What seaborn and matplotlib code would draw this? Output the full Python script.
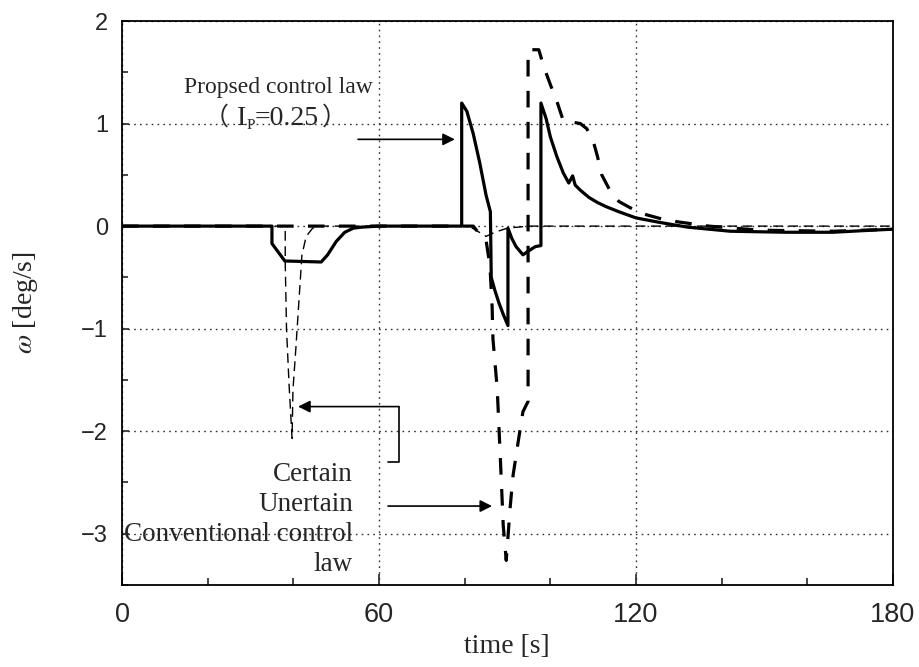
import matplotlib
matplotlib.use("Agg")
import matplotlib.pyplot as plt
from matplotlib.ticker import MultipleLocator
import numpy as np
import pandas as pd
import seaborn as sns


# ── data ──────────────────────────────────────────────────────────────────────

# proposed control law (solid)
prop_t = [0, 35, 35, 38, 46.5, 48, 50, 52, 54, 56, 60,
          79.3, 79.3, 80.5, 82, 83.5, 85, 86.0, 86.2, 87, 88, 89, 90.1,
          90.1, 91, 92, 93.6, 95, 96.5, 97.8, 97.8, 99, 100, 101.5, 103,
          104.3, 105.2, 105.8, 107, 109, 111, 113, 116, 120, 125, 132,
          142, 155, 166, 175, 180]
prop_w = [0, 0, -0.17, -0.34, -0.35, -0.28, -0.15, -0.06, -0.02, -0.01, 0,
          0, 1.2, 1.12, 0.9, 0.62, 0.3, 0.14, -0.5, -0.62, -0.75, -0.86, -0.97,
          -0.02, -0.12, -0.2, -0.28, -0.24, -0.2, -0.19, 1.2, 1.05, 0.87, 0.68, 0.52,
          0.42, 0.49, 0.4, 0.35, 0.28, 0.23, 0.19, 0.14, 0.08, 0.04, -0.01,
          -0.05, -0.06, -0.06, -0.04, -0.03]

# conventional control law, uncertain (thick dashed)
unc_t = [0, 82, 83.5, 85, 85.9, 86.4, 86.6, 87.6, 88.3, 89.0, 89.7,
         90.6, 91.3, 92.5, 93.6, 94.8, 94.8, 97.3, 98.5, 100, 101.5, 103,
         107, 108.5, 110, 111, 112, 114, 116, 118.6, 121.6, 126, 130,
         137, 149, 166, 180]
unc_w = [0, 0, -0.08, -0.14, -0.39, -0.78, -1.1, -1.59, -2.24, -2.92, -3.26,
         -2.75, -2.43, -2.1, -1.81, -1.71, 1.72, 1.72, 1.55, 1.38, 1.22, 1.03,
         1.0, 0.95, 0.83, 0.68, 0.5, 0.34, 0.24, 0.18, 0.12, 0.07, 0.04,
         0.0, -0.04, -0.05, -0.03]

# conventional control law, certain (thin dashed)
cer_t = [0, 38.1, 38.1, 38.4, 39.0, 39.7, 39.9, 40.6, 41.3, 42.0, 43.0,
         44.5, 46, 81, 83, 85, 87, 90, 95, 180]
cer_w = [0, 0, -0.35, -1.0, -1.55, -2.07, -1.6, -1.18, -0.73, -0.28, -0.1,
         -0.02, 0, 0, -0.05, -0.1, -0.06, -0.02, 0, 0]

x_ticks = [0, 60, 120, 180]
y_ticks = [-3, -2, -1, 0, 1, 2]

# annotation anchors (data coords)
prop_arrow = ((55.1, 0.846), (77.7, 0.846))
cer_bracket_x = [62.1, 64.7, 64.7]
cer_bracket_y = [-2.296, -2.296, -1.76]
cer_arrow = ((64.7, -1.76), (41.1, -1.76))
unc_arrow = ((62.1, -2.73), (86.4, -2.73))


# ── style ─────────────────────────────────────────────────────────────────────

sns.set_style("ticks")
plt.rcParams["font.family"] = ["Liberation Sans", "DejaVu Sans"]
plt.rcParams["mathtext.fontset"] = "stix"

SERIF = ["Liberation Serif", "DejaVu Serif"]
CJK = ["Noto Sans CJK JP", "DejaVu Sans"]

fig = plt.figure(figsize=(9.19, 6.67), dpi=100)
ax = fig.add_axes([0.1328, 0.1229, 0.8389, 0.8456])

prop_df = pd.DataFrame({"t": prop_t, "w": prop_w})
unc_df = pd.DataFrame({"t": unc_t, "w": unc_w})
cer_df = pd.DataFrame({"t": cer_t, "w": cer_w})

sns.lineplot(data=cer_df, x="t", y="w", ax=ax, sort=False, estimator=None,
             color="black", lw=1.0, linestyle=(0, (7, 4)))
sns.lineplot(data=unc_df, x="t", y="w", ax=ax, sort=False, estimator=None,
             color="black", lw=2.3, linestyle=(0, (5.2, 4.5)))
sns.lineplot(data=prop_df, x="t", y="w", ax=ax, sort=False, estimator=None,
             color="black", lw=2.3)

ax.set_xlim(0, 180)
ax.set_ylim(-3.5, 2)
ax.set_xticks(x_ticks)
ax.set_yticks(y_ticks)
ax.set_yticklabels([f"{v}".replace("-", "\u2212") for v in y_ticks])
ax.xaxis.set_minor_locator(MultipleLocator(20))
ax.yaxis.set_minor_locator(MultipleLocator(0.5))

ax.grid(True, which="major", linestyle=(0, (1.2, 3)), color="#333333", lw=1.0)
for s in ax.spines.values():
    s.set_linewidth(1.3)
    s.set_color("black")

ax.tick_params(axis="x", which="major", direction="in", length=8, width=1.2,
               labelsize=19.5, pad=12, bottom=True, top=False)
ax.tick_params(axis="x", which="minor", direction="in", length=5, width=1.2,
               bottom=True, top=False)
ax.tick_params(axis="y", which="major", direction="in", length=5, width=1.2,
               labelsize=17, pad=10, left=True, right=False)
ax.tick_params(axis="y", which="minor", direction="in", length=4, width=1.2,
               left=True, right=False)

ax.set_xlabel("time [s]", family=SERIF, fontsize=20)
ax.set_ylabel(r"$\omega$ [deg/s]", family=SERIF, fontsize=20)
ax.xaxis.set_label_coords(0.4994, -0.087)
ax.yaxis.set_label_coords(-0.106, 0.5)

# ── annotations ───────────────────────────────────────────────────────────────

arrow_kw = dict(arrowstyle="-|>", color="black", lw=1.2, mutation_scale=18,
                shrinkA=0, shrinkB=0)

ax.text(36.4, 1.35, "Propsed control law", family=SERIF, fontsize=17,
        ha="center", va="center")

# "（I_P=0.25）" built from pieces so the subscript and full-width brackets work
base_y = 0.99
p1 = ax.text(19.1, base_y, "（", family=CJK, fontsize=18, ha="left",
             va="baseline")
p2 = ax.annotate("I", xy=(1, base_y), xycoords=(p1, "data"), xytext=(6, 0),
                 textcoords="offset points", family=SERIF, fontsize=20,
                 ha="left", va="baseline")
p3 = ax.annotate("P", xy=(1, base_y), xycoords=(p2, "data"), xytext=(0, -3),
                 textcoords="offset points", family=SERIF, fontsize=11,
                 ha="left", va="baseline")
p4 = ax.annotate("=0.25", xy=(1, base_y), xycoords=(p3, "data"),
                 family=SERIF, fontsize=20, ha="left", va="baseline")
ax.annotate("）", xy=(1, base_y), xycoords=(p4, "data"), xytext=(2, 0),
            textcoords="offset points", family=CJK, fontsize=18,
            ha="left", va="baseline")
ax.annotate("", xy=prop_arrow[1], xytext=prop_arrow[0], arrowprops=arrow_kw)

ax.plot(cer_bracket_x, cer_bracket_y, color="black", lw=1.2)
ax.annotate("", xy=cer_arrow[1], xytext=cer_arrow[0], arrowprops=arrow_kw)
ax.annotate("", xy=unc_arrow[1], xytext=unc_arrow[0], arrowprops=arrow_kw)

ax.text(53.9, -2.86, "Certain\nUnertain\nConventional control\nlaw",
        family=SERIF, fontsize=19.5, ha="right", va="center",
        multialignment="right", linespacing=1.27)

fig.savefig("out.png", dpi=100)
